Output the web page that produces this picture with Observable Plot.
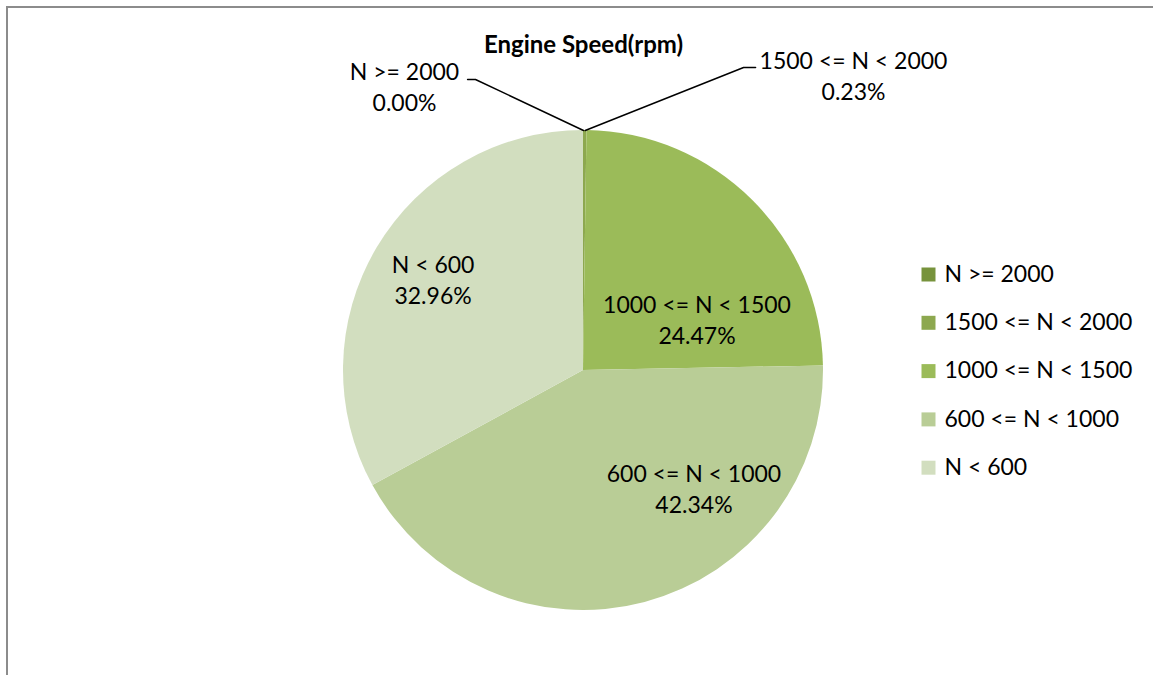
<!DOCTYPE html>
<html><head><meta charset="utf-8">
<script src="https://cdn.jsdelivr.net/npm/d3@7"></script>
<script src="https://cdn.jsdelivr.net/npm/@observablehq/plot@0.6"></script>
<style>
html,body{margin:0;padding:0;background:#fff;}
#wrap{position:relative;width:1153px;height:675px;overflow:hidden;}
#border{position:absolute;left:6px;top:6px;right:-10px;bottom:-10px;border-top:2px solid #8c8c8c;border-left:2px solid #8c8c8c;pointer-events:none;}
</style></head><body><div id="wrap"><div id="border"></div></div>
<script>
// ---- data ----
const title = "Engine Speed(rpm)";
const categories = ["N >= 2000", "1500 <= N < 2000", "1000 <= N < 1500", "600 <= N < 1000", "N < 600"];
const shares = [0.00, 0.23, 24.47, 42.34, 32.96];
const pctLabels = ["0.00%", "0.23%", "24.47%", "42.34%", "32.96%"];
const colors = ["#77933C", "#8DA84F", "#9BBB59", "#B9CD96", "#D2DEBF"];

// ---- layout ----
const W = 1153, H = 675, CX = 583, CY = 370, R = 240;
const FONT = "Lato, 'Liberation Sans', sans-serif";
const FS = 23, LH = 31 / 23;
// inner labels: centroid at 0.6R plus a pixel nudge
const innerNudge = {2: [11.9, 75.1], 3: [73.5, 3.8], 4: [-26.6, 6.5]};
// outside labels with leader lines (units of radius)
const outside = {
  0: {elbow: [-0.45, 1.2125], end: [-0.483, 1.2125], text: [-0.7458, 1.0833]},
  1: {elbow: [0.667, 1.2625], end: [0.717, 1.2625], text: [1.125, 1.129]}
};
const legend = {swatchX: 1.4375, textX: 1.504, top: 0.4, step: 48.3 / 240};

const rows = categories.map((c, i) => ({cat: c, share: shares[i], pct: pctLabels[i], i}));
const arcs = d3.pie().sort(null).value(d => d.share)(rows);

const labels = [];
const leaders = [];
arcs.forEach(a => {
  const d = a.data, mid = (a.startAngle + a.endAngle) / 2;
  if (outside[d.i]) {
    const o = outside[d.i];
    labels.push({x: o.text[0], y: o.text[1], t: d.cat + "\n" + d.pct});
    leaders.push({k: d.i, x: Math.sin(mid), y: Math.cos(mid)});
    leaders.push({k: d.i, x: o.elbow[0], y: o.elbow[1]});
    leaders.push({k: d.i, x: o.end[0], y: o.end[1]});
  } else {
    const n = innerNudge[d.i];
    labels.push({x: 0.6 * Math.sin(mid) + n[0] / R, y: 0.6 * Math.cos(mid) - n[1] / R, t: d.cat + "\n" + d.pct});
  }
});
const legendRows = rows.map((d, k) => ({cat: d.cat, y: legend.top - k * legend.step}));

function pieMark(index, scales) {
  const {x, y, color} = scales;
  const r = x(1) - x(0);
  const arc = d3.arc().innerRadius(0).outerRadius(r);
  const g = d3.create("svg:g").attr("transform", `translate(${x(0)},${y(0)})`);
  g.selectAll("path").data(arcs).join("path")
    .attr("d", arc)
    .attr("fill", a => color(a.data.cat));
  return g.node();
}

const chart = Plot.plot({
  width: W, height: H,
  margin: 0,
  style: {fontFamily: FONT, background: "transparent", overflow: "visible"},
  x: {domain: [-CX / R, (W - CX) / R], range: [0, W], axis: null},
  y: {domain: [-(H - CY) / R, CY / R], range: [H, 0], axis: null},
  color: {domain: categories, range: colors},
  marks: [
    pieMark,
    Plot.line(leaders, {x: "x", y: "y", z: "k", stroke: "#000", strokeWidth: 1.5}),
    Plot.text(labels, {x: "x", y: "y", text: "t", textAnchor: "middle", lineAnchor: "bottom", lineHeight: LH, fontSize: FS, fill: "#000"}),
    Plot.text([title], {x: () => 0, y: () => (CY - 52) / R, text: d => d, lineAnchor: "bottom", fontSize: 24, fontWeight: "bold", fill: "#000"}),
    Plot.dot(legendRows, {x: () => legend.swatchX, y: "y", fill: "cat", symbol: "square", r: 7.9, stroke: null}),
    Plot.text(legendRows, {x: () => legend.textX, y: "y", text: "cat", textAnchor: "start", fontSize: FS, fill: "#000"})
  ]
});
document.getElementById("wrap").prepend(chart);
</script>
</body></html>
